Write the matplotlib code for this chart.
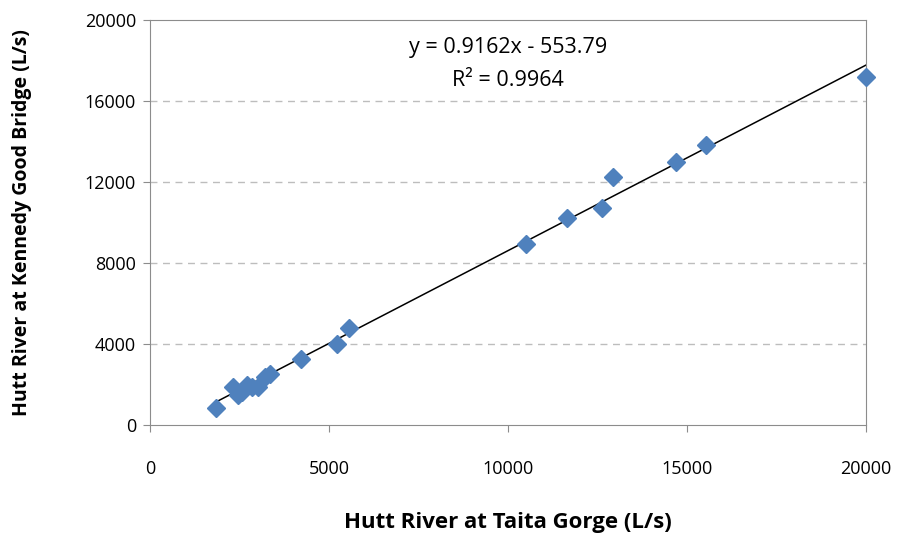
import numpy as np
import matplotlib
matplotlib.use("Agg")
import matplotlib.pyplot as plt

# flow pairs (L/s)
taita = [1850, 2330, 2470, 2560, 2700, 2850, 3030, 3210, 3350, 4220, 5220, 5570,
         10500, 11650, 12630, 12930, 14700, 15530, 20000]
kennedy = [840, 1860, 1480, 1650, 1970, 1900, 1860, 2390, 2520, 3260, 3990, 4800,
           8940, 10220, 10720, 12250, 12990, 13830, 17190]

slope = 0.9162
intercept = -553.79
r2 = 0.9964

x_ticks = [0, 5000, 10000, 15000, 20000]
y_ticks = [0, 4000, 8000, 12000, 16000, 20000]

plt.rcParams["font.family"] = ["Open Sans", "DejaVu Sans"]

fig = plt.figure(figsize=(9.03, 5.33), dpi=100)
ax = fig.add_axes([0.166, 0.2026, 0.793, 0.76])

for y in y_ticks[1:-1]:
    ax.axhline(y, color="#bdbdbd", lw=1, ls=(0, (5, 4)), zorder=0)

xl = np.array([min(taita), max(taita)])
ax.plot(xl, slope * xl + intercept, color="black", lw=1.1, zorder=2)
ax.plot(taita, kennedy, ls="none", marker="D", ms=9, color="#4f81bd",
        mec="#4f81bd", zorder=3, clip_on=False)

ax.set_xlim(0, 20000)
ax.set_ylim(0, 20000)
ax.set_xticks(x_ticks)
ax.set_yticks(y_ticks)
ax.tick_params(labelsize=13, color="#8c8c8c", length=5)
ax.tick_params(axis="x", pad=20)
ax.tick_params(axis="y", pad=5)
for s in ax.spines.values():
    s.set_color("#8c8c8c")

ax.text(0.5, 0.932, "y = 0.9162x - 553.79", transform=ax.transAxes,
        ha="center", va="center", fontsize=15.5)
ax.text(0.5, 0.85, "R² = %.4f" % r2, transform=ax.transAxes,
        ha="center", va="center", fontsize=15.5)

ax.set_xlabel("Hutt River at Taita Gorge (L/s)", fontsize=16, fontweight="bold",
              labelpad=25)
ax.set_ylabel("Hutt River at Kennedy Good Bridge (L/s)", fontsize=14,
              fontweight="bold", labelpad=38)

fig.savefig("out.png", dpi=100)
